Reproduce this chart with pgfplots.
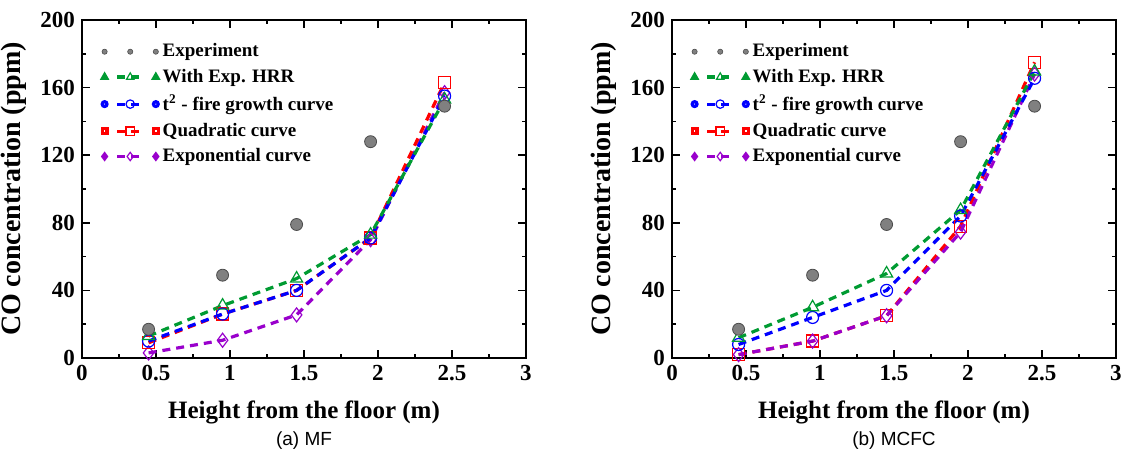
\documentclass[border=0pt]{standalone}
\usepackage{fontspec}
\setmainfont{Liberation Serif}
\newfontfamily\capfont{Liberation Sans}
\usepackage{pgfplots}
\pgfplotsset{compat=1.18}

\definecolor{cexp}{RGB}{128,128,128}
\definecolor{cgreen}{RGB}{0,155,50}
\definecolor{cblue}{RGB}{0,0,255}
\definecolor{cred}{RGB}{255,0,0}
\definecolor{cpurple}{RGB}{153,0,204}

\pgfplotsset{
  panel/.style={
    scale only axis, width=222pt, height=169pt,
    xmin=0, xmax=3, ymin=0, ymax=200,
    xtick={0,0.5,1,1.5,2,2.5,3}, ytick={0,40,80,120,160,200},
    minor x tick num=1, minor y tick num=1,
    tick align=inside, major tick length=4pt, minor tick length=2pt,
    axis line style={line width=0.8pt}, every tick/.style={line width=0.8pt, black},
    ticklabel style={font=\fontsize{11.5}{13}\selectfont\bfseries},
    /pgf/number format/assume math mode=true,
    xlabel={Height from the floor (m)}, ylabel={CO concentration (ppm)},
    xlabel style={font=\fontsize{12.5}{14}\selectfont\bfseries, yshift=-3pt},
    ylabel style={font=\fontsize{14}{16}\selectfont\bfseries},
    legend style={draw=none, fill=none, at={(0.03,0.955)}, anchor=north west,
      font=\fontsize{9.5}{11}\selectfont\bfseries, row sep=0.6pt},
    legend cell align=left,
  },
  sim/.style={line width=1.6pt, dash pattern=on 4pt off 3pt,
    mark options={solid, line width=0.6pt, fill=white},
    legend image code/.code={
      \draw[##1, mark=none] (0.22cm,0cm) -- (0.68cm,0cm);
      \draw[##1, mark size=2.1pt] plot coordinates {(0.45cm,0cm)};
      \draw[##1, mark size=1.2pt, mark options={solid, fill}] plot coordinates {(0cm,0cm)};
      \draw[##1, mark size=1.2pt, mark options={solid, fill}] plot coordinates {(0.9cm,0cm)};}},
  expm/.style={only marks, mark=*, mark size=3pt,
    mark options={fill=cexp, draw=black!70, line width=0.4pt},
    legend image code/.code={
      \foreach \xx in {0,0.45,0.9} \filldraw[fill=cexp, draw=black!70, line width=0.3pt] (\xx cm,0cm) circle (1.3pt);}},
  gs/.style={sim, color=cgreen, mark=triangle, mark size=3.5pt},
  bs/.style={sim, color=cblue, mark=o, mark size=3pt},
  rs/.style={sim, color=cred, mark=square, mark size=3pt},
  ps/.style={sim, color=cpurple, mark=diamond, mark size=3.5pt},
  panellegend/.style={},
}
\newcommand{\panellegend}{%
  \addlegendimage{expm}\addlegendentry{Experiment}
  \addlegendimage{gs}\addlegendentry{With Exp. HRR}
  \addlegendimage{bs}\addlegendentry{t\textsuperscript{2} - fire growth curve}
  \addlegendimage{rs}\addlegendentry{Quadratic curve}
  \addlegendimage{ps}\addlegendentry{Exponential curve}}

\begin{document}
\begin{tikzpicture}
\begin{axis}[panel]
\panellegend
\addplot[ps, forget plot] coordinates {(0.45,3) (0.95,10.5) (1.45,25.5) (1.95,70) (2.45,157)};
\addplot[rs, forget plot] coordinates {(0.45,9) (0.95,26) (1.45,40) (1.95,71) (2.45,163)};
\addplot[bs, forget plot] coordinates {(0.45,10) (0.95,26) (1.45,40) (1.95,71) (2.45,155)};
\addplot[gs, forget plot] coordinates {(0.45,13) (0.95,31) (1.45,47) (1.95,73) (2.45,153)};
\addplot[expm, forget plot] coordinates {(0.45,17) (0.95,49) (1.45,79) (1.95,128) (2.45,149)};
\end{axis}
\begin{axis}[panel, at={(295pt,0pt)}]
\panellegend
\addplot[rs, forget plot] coordinates {(0.45,2) (0.95,10) (1.45,25) (1.95,78) (2.45,175)};
\addplot[ps, forget plot] coordinates {(0.45,2) (0.95,10) (1.45,25) (1.95,74.5) (2.45,168)};
\addplot[bs, forget plot] coordinates {(0.45,8) (0.95,24) (1.45,40) (1.95,84) (2.45,165.5)};
\addplot[gs, forget plot] coordinates {(0.45,12) (0.95,30) (1.45,50) (1.95,87.5) (2.45,169.5)};
\addplot[expm, forget plot] coordinates {(0.45,17) (0.95,49) (1.45,79) (1.95,128) (2.45,149)};
\end{axis}
\node[font=\capfont\fontsize{9.5}{11}\selectfont] at (111pt,-41.5pt) {(a) MF};
\node[font=\capfont\fontsize{9.5}{11}\selectfont] at (406pt,-41.5pt) {(b) MCFC};
\pgfresetboundingbox
\path[use as bounding box] (-41pt,-51pt) rectangle (525pt,179pt);
\end{tikzpicture}
\end{document}
